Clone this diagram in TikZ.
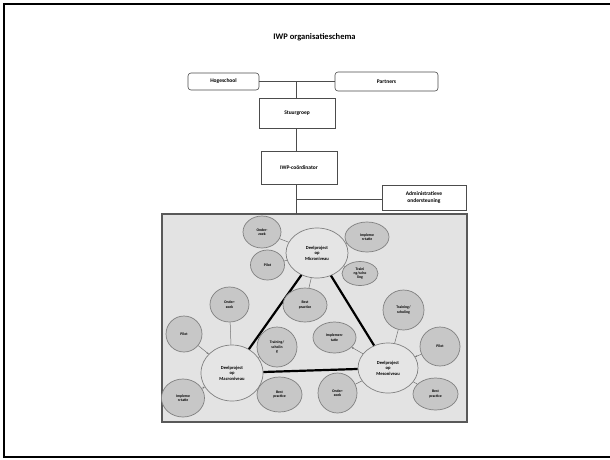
\documentclass[tikz,border=0pt]{standalone}
\usepackage{fontspec}
\setmainfont{Carlito}
\usetikzlibrary{shapes.geometric,arrows.meta}
\begin{document}
\begin{tikzpicture}[x=1pt,y=-1pt,
  orgbox/.style={draw=black!70,line width=0.6pt,fill=white,inner sep=0pt,font=\fontsize{5.5}{6.5}\selectfont\bfseries,align=center},
  mainc/.style={ellipse,draw=black!50,line width=0.7pt,fill=black!10,inner sep=0pt,font=\fontsize{4.6}{5.4}\selectfont\bfseries,align=center},
  satc/.style={ellipse,draw=black!50,line width=0.7pt,fill=black!22,inner sep=0pt,font=\fontsize{3.8}{4.4}\selectfont\bfseries,align=center},
  tri/.style={line width=2.2pt,black},
  link/.style={draw=black!55,line width=0.5pt},
  orgline/.style={draw=black!70,line width=0.6pt}]
\useasboundingbox (0,0) rectangle (610,459);
\draw[line width=2pt] (615,4) -- (4,4) -- (4,457) -- (615,457);
\node[font=\fontsize{8.5}{10}\selectfont\bfseries] (title) at (314.5,37) {IWP organisatieschema};
% org boxes
\node[orgbox,rounded corners=3pt,minimum width=71pt,minimum height=17pt] (hs) at (223.5,81.5) {Hogeschool};
\node[orgbox,rounded corners=3pt,minimum width=103pt,minimum height=19pt] (pa) at (386.5,81.5) {Partners};
\node[orgbox,minimum width=76pt,minimum height=30pt] (sg) at (297,113) {Stuurgroep};
\node[orgbox,minimum width=76pt,minimum height=33pt] (co) at (299,167.5) {IWP-co\"ordinator};
\node[orgbox,minimum width=84pt,minimum height=25pt] (ad) at (424,197.5) {Administratieve\\ondersteuning};
% big gray box
\draw[draw=black!65,line width=1.4pt,fill=black!11] (162,214) rectangle (467,422);
\coordinate (j1) at (296,82);
\coordinate (j2) at (296,199);
\coordinate (j3) at (296,214);
\draw[orgline] (hs.east) -- (pa.west);
\draw[orgline] (j1) -- (sg.north -| j1);
\draw[orgline] (sg.south -| j1) -- (co.north -| j1);
\draw[orgline] (co.south -| j1) -- (j3);
\draw[orgline] (j2) -- (ad.west |- j2);
% main circles
\node[mainc,minimum width=62pt,minimum height=50pt] (mi) at (317,253) {Deelproject\\op\\Microniveau};
\node[mainc,minimum width=62pt,minimum height=56pt] (ma) at (232,373) {Deelproject\\op\\Macroniveau};
\node[mainc,minimum width=60pt,minimum height=50pt] (me) at (388,368) {Deelproject\\op\\Mesoniveau};
% triangle
\draw[tri] (mi) -- (ma);
\draw[tri] (mi) -- (me);
\draw[tri] (ma) -- (me);
% micro satellites
\node[satc,minimum width=38pt,minimum height=32pt] (mi1) at (262,232) {Onder-\\zoek};
\node[satc,minimum width=34pt,minimum height=30pt] (mi2) at (267.5,265) {Pilot};
\node[satc,minimum width=44pt,minimum height=30pt] (mi3) at (367,237) {Impleme\\n-tatie};
\node[satc,minimum width=36pt,minimum height=24pt] (mi4) at (360,273.5) {Traini\\ng/scho\\ling};
\node[satc,minimum width=44pt,minimum height=34pt] (mi5) at (305,305) {Best\\practice};
\draw[link] (mi) -- (mi1);
\draw[link] (mi) -- (mi2);
\draw[link] (mi) -- (mi3);
\draw[link] (mi) -- (mi4);
\draw[link] (mi) -- (mi5);
% macro satellites
\node[satc,minimum width=39pt,minimum height=35pt] (ma1) at (229.5,304.5) {Onder-\\zoek};
\node[satc,minimum width=36pt,minimum height=36pt] (ma2) at (184,334) {Pilot};
\node[satc,minimum width=43pt,minimum height=38pt] (ma3) at (183,398) {Impleme\\n-tatie};
\node[satc,minimum width=40pt,minimum height=40pt] (ma4) at (277,347) {Training/\\scholin\\g};
\node[satc,minimum width=45pt,minimum height=35pt] (ma5) at (279.5,394.5) {Best\\practice};
\draw[link] (ma) -- (ma1);
\draw[link,-{Stealth[length=2pt,width=2pt]}] (ma2) -- (ma);
\draw[link,-{Stealth[length=2pt,width=2pt]}] (ma3) -- (ma);
\draw[link] (ma) -- (ma4);
\draw[link] (ma) -- (ma5);
% meso satellites
\node[satc,minimum width=41pt,minimum height=40pt] (me1) at (403.5,310) {Training/\\scholing};
\node[satc,minimum width=40pt,minimum height=39pt] (me2) at (440,346.5) {Pilot};
\node[satc,minimum width=45pt,minimum height=32pt] (me3) at (435.5,394) {Best\\practice};
\node[satc,minimum width=39pt,minimum height=40pt] (me4) at (337.5,393) {Onder-\\zoek};
\node[satc,minimum width=43pt,minimum height=31pt] (me5) at (334.5,337.5) {Implemen-\\tatie};
\draw[link] (me) -- (me1);
\draw[link,-{Stealth[length=2pt,width=2pt]}] (me2) -- (me);
\draw[link] (me) -- (me3);
\draw[link] (me) -- (me4);
\draw[link,-{Stealth[length=2pt,width=2pt]}] (me) -- (me5);
\end{tikzpicture}
\end{document}
